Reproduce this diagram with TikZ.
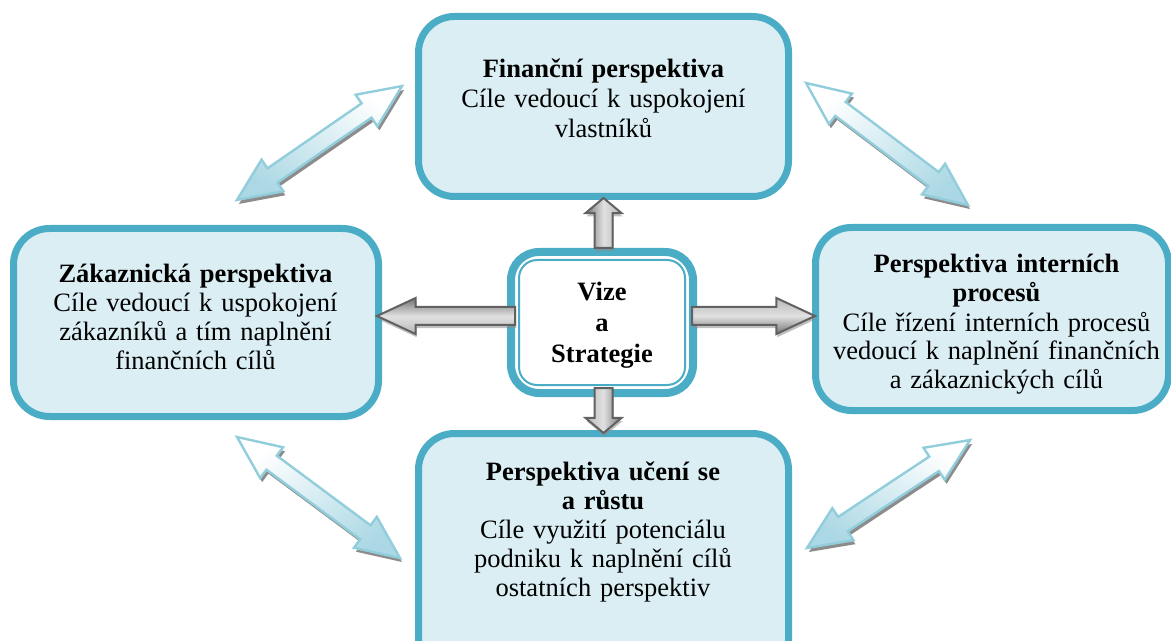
\documentclass[tikz,border=0pt]{standalone}
\usepackage{fontspec}
\setmainfont{Liberation Serif}
\usetikzlibrary{shapes.arrows,shadows}

\definecolor{bscBorder}{HTML}{4BACC6}
\definecolor{bscFill}{HTML}{DAEEF3}
\definecolor{linkLine}{HTML}{92CDDC}
\definecolor{linkFill}{HTML}{ABD8E4}

% text size with a fixed line pitch (kept inside the node's minipage)
\newcommand{\perspfont}[1]{\fontsize{13.25pt}{#1}\selectfont
  \normalbaselineskip=#1\relax\baselineskip=#1\relax}

\begin{document}
\begin{tikzpicture}[x=0.5pt,y=-0.5pt,
  persp/.style={draw=bscBorder, line width=3.5pt, fill=bscFill,
    rounded corners=18pt, inner sep=0pt, outer sep=0pt},
  core/.style={draw=bscBorder, line width=4pt, fill=white,
    rounded corners=14pt, inner sep=0pt, outer sep=0pt,
    minimum width=91pt, minimum height=70.5pt},
  boxtext/.style={font=\perspfont{#1},
    text width=175pt, align=center, anchor=base, inner sep=0pt},
  boxtext/.default=14.5pt,
  flowarrow/.style={single arrow, draw=black!62, line width=1pt,
    inner xsep=0pt, inner ysep=4pt, outer sep=0pt, anchor=tail,
    single arrow head extend=4.5pt, single arrow tip angle=50,
    rotate=#1, top color=black!28, bottom color=black!55,
    middle color=black!12, shading angle={-(#1)},
    drop shadow={shadow xshift=0.5pt, shadow yshift=-1.6pt,
      fill=black!45, opacity=0.55}},
  linkarrow/.style={double arrow, draw=linkLine, line width=1.2pt,
    inner xsep=0pt, inner ysep=3.75pt, outer sep=0pt,
    double arrow head extend=5.25pt, double arrow tip angle=48,
    rotate=#1, top color=white, bottom color=linkFill,
    shading angle={-(#1)},
    drop shadow={shadow xshift=1pt, shadow yshift=-2pt,
      fill=black!60, opacity=0.75}}
]
\useasboundingbox (0,0) rectangle (1171,641);
\clip (0,0) rectangle (1171,641);

% links between neighbouring perspectives
\node[linkarrow=34.6, minimum height=100.3pt] (fin-cust) at (319.5,143) {};
\node[linkarrow=-37, minimum height=101.4pt] (fin-int) at (887,144) {};
\node[linkarrow=-36.6, minimum height=101.5pt] (cust-learn) at (318.5,497.5) {};
\node[linkarrow=33.5, minimum height=97.8pt] (int-learn) at (888.5,494) {};

% the four perspectives
\node[persp, minimum width=185pt, minimum height=90pt] (fin) at (603.5,106.5) {};
\node[persp, minimum width=182.5pt, minimum height=94pt] (cust) at (196,322.5) {};
\node[persp, minimum width=176.5pt, minimum height=91.5pt] (int) at (992,319) {};
\node[persp, minimum width=185pt, minimum height=136.5pt] (learn) at (603.5,570) {};

% vision and strategy in the middle, with its inner frame line
\node[core] (core) at (602,322.5) {};
\draw[bscBorder, line width=1pt, rounded corners=9pt]
  ([xshift=4pt,yshift=-4pt]core.north west) rectangle
  ([xshift=-4pt,yshift=4pt]core.south east);

% texts
\node[boxtext=15pt] (fin-text) at (603.5,78)
  {\textbf{Finanční perspektiva}\\Cíle vedoucí k uspokojení\\vlastníků};
\node[boxtext] (cust-text) at (195.5,283)
  {\textbf{Zákaznická perspektiva}\\Cíle vedoucí k uspokojení\\zákazníků a tím naplnění\\finančních cílů};
\node[boxtext] (int-text) at (996.5,273)
  {\textbf{Perspektiva interních}\\\textbf{procesů}\\Cíle řízení interních procesů\\vedoucí k naplnění finančních\\a zákaznických cílů};
\node[boxtext] (learn-text) at (603,480)
  {\textbf{Perspektiva učení se}\\\textbf{a růstu}\\Cíle využití potenciálu\\podniku k naplnění cílů\\ostatních perspektiv};
\node[boxtext=15.5pt] (core-text) at (602,300)
  {\textbf{Vize}\\\textbf{a}\\\textbf{Strategie}};

% arrows from the centre to each perspective
\node[flowarrow=90, single arrow tip angle=100, minimum height=25pt] (to-fin) at (603.5,248) {};
\node[flowarrow=-90, single arrow tip angle=100, minimum height=22.5pt] (to-learn) at (603.5,388) {};
\node[flowarrow=180, minimum height=69pt] (to-cust) at (515,316) {};
\node[flowarrow=0, minimum height=61.5pt] (to-int) at (692,316) {};
\end{tikzpicture}
\end{document}
